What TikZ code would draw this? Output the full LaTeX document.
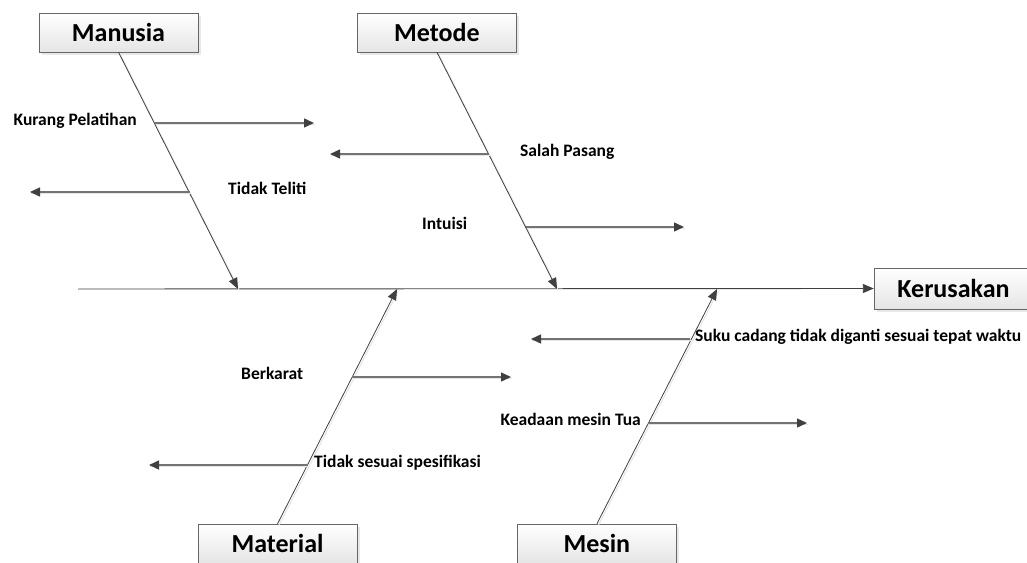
\documentclass[tikz,border=0pt]{standalone}
\usepackage{fontspec}
\setmainfont{Carlito}
\usetikzlibrary{arrows.meta,shadows,positioning}
\tikzset{
  kat/.style={rectangle, minimum width=159pt, minimum height=39pt, text centered, draw=black!60, top color=white, bottom color=black!10, drop shadow={opacity=0.18, shadow xshift=2.5pt, shadow yshift=-2.5pt}, font=\fontsize{26}{30}\selectfont\bfseries},
  ef/.style={kat, minimum height=41pt},
  lb/.style={inner sep=0pt, font=\fontsize{17.5}{20}\selectfont\bfseries},
  spine/.style={draw=black!75, line width=0.9pt, -{Triangle[length=11pt,width=9pt]}},
  bone/.style={draw=black!75, line width=0.8pt, -{Triangle[length=11pt,width=9pt]}, preaction={-, draw=black!10, line width=1pt, transform canvas={xshift=1.5pt,yshift=-1.5pt}}},
  ar/.style={draw=black!55, line width=1.4pt, -{Triangle[length=10pt,width=9pt,color=black!75]}, preaction={-, draw=black!10, line width=1.4pt, transform canvas={xshift=1pt,yshift=-1.5pt}}}
}

\begin{document}
\begin{tikzpicture}[x=1pt, y=-1pt]
\clip (0,0) rectangle (1027,562);
% kotak kategori
\node[kat] (manusia) at (118.5,32.5) {Manusia};
\node[kat, right=159pt of manusia] (metode) {Metode};
\node[kat] (material) at (277.5,543.5) {Material};
\node[kat, right=160pt of material] (mesin) {Mesin};
\node[ef] (kerusakan) at (953.5,288.5) {Kerusakan};

% tulang utama
\coordinate (ekor) at (78,289);
\draw[spine] (ekor) -- (kerusakan.west);

% tulang kategori
\coordinate (t1) at (238,289);
\coordinate (t2) at (557,289);
\coordinate (t3) at (397,289);
\coordinate (t4) at (717,289);
\draw[bone] (manusia.south) -- (t1);
\draw[bone] (metode.south) -- (t2);
\draw[bone] (material.north) -- (t3);
\draw[bone] (mesin.north) -- (t4);

% penyebab
\coordinate (a1) at (155,123); \coordinate (b1) at (314,123);
\coordinate (a2) at (190,192); \coordinate (b2) at (30,192);
\coordinate (a3) at (489,154); \coordinate (b3) at (330,154);
\coordinate (a4) at (526,227); \coordinate (b4) at (684,227);
\coordinate (a5) at (352,377); \coordinate (b5) at (511,377);
\coordinate (a6) at (308,465); \coordinate (b6) at (149,465);
\coordinate (a7) at (690,339); \coordinate (b7) at (531,339);
\coordinate (a8) at (648,423); \coordinate (b8) at (807,423);
\draw[ar] (a1) -- (b1);
\draw[ar] (a2) -- (b2);
\draw[ar] (a3) -- (b3);
\draw[ar] (a4) -- (b4);
\draw[ar] (a5) -- (b5);
\draw[ar] (a6) -- (b6);
\draw[ar] (a7) -- (b7);
\draw[ar] (a8) -- (b8);

\node[lb, anchor=mid east] (kurang) at (137,123) {Kurang Pelatihan};
\node[lb, anchor=mid west] (teliti) at (228,192) {Tidak Teliti};
\node[lb, anchor=mid west] (salah) at (520,154) {Salah Pasang};
\node[lb, anchor=mid west] (intuisi) at (422,227) {Intuisi};
\node[lb, anchor=mid west] (karat) at (241,377) {Berkarat};
\node[lb, anchor=mid west] (spesifikasi) at (314,465) {Tidak sesuai spesifikasi};
\node[lb, anchor=mid west] (suku) at (695,339) {Suku cadang tidak diganti sesuai tepat waktu};
\node[lb, anchor=mid east] (tua) at (641,423) {Keadaan mesin Tua};
\end{tikzpicture}
\end{document}
